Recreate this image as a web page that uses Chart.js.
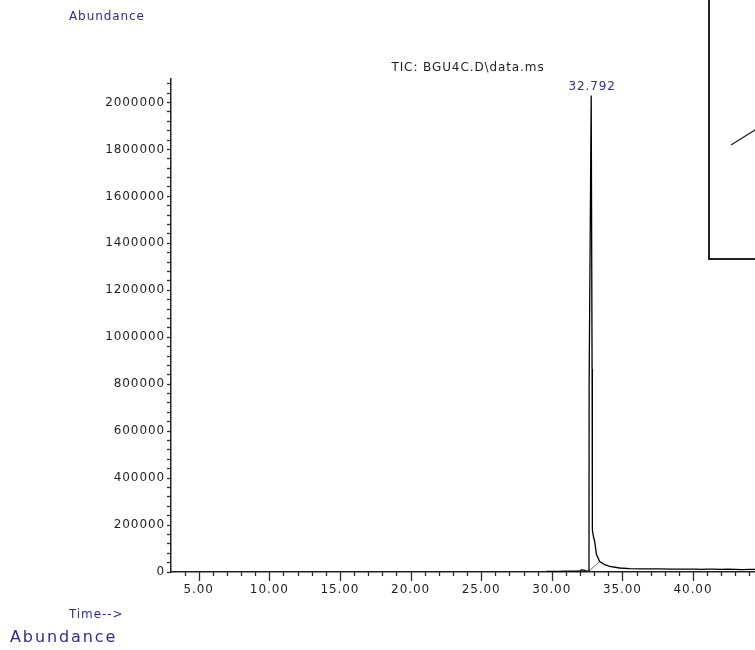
<!DOCTYPE html>
<html>
<head>
<meta charset="utf-8">
<title>TIC: BGU4C.D\data.ms</title>
<script src="https://cdn.jsdelivr.net/npm/chart.js@4/dist/chart.umd.min.js"></script>
<style>
    html, body { margin: 0; padding: 0; background: #fff; overflow: hidden; }
    #tic-chart { display: block; }
</style>
</head>
<body>
<canvas id="tic-chart" width="755" height="650"></canvas>
<script>
// --- Trace data (retention time in min, abundance) ---
const retentionTimes = [
    29.60, 30.00, 30.50, 31.00, 31.50, 32.00, 32.10, 32.30, 32.40, 32.55,
    32.636, 32.645, 32.792, 32.855, 32.875, 32.95, 33.04, 33.16, 33.39, 33.75,
    34.10, 34.81, 35.52, 36.50, 37.50, 38.50, 39.50, 40.20, 40.60, 41.00,
    41.50, 42.00, 42.50, 43.00, 43.50, 44.00, 44.50
];
const abundance = [
    2500, 3000, 3000, 3500, 3500, 4000, 9000, 8000, 4000, 4000,
    6000, 795000, 2030000, 865000, 180000, 150000, 130000, 75000, 45000, 31000,
    24000, 17000, 14000, 13500, 13000, 12500, 12500, 12500, 11000, 12500,
    12000, 11000, 12000, 11500, 10500, 11500, 11500
];

// integration baseline under the main peak
const baselineTimes = [32.57, 33.39];
const baselineValues = [0, 45000];

// --- Axis ticks ---
const timeTicks = [];
for (let t = 4; t <= 44; t++) timeTicks.push(t);
const abundanceTicks = [];
for (let a = 0; a <= 2080000; a += 40000) abundanceTicks.push(a);

const FONT = "'DejaVu Sans', Verdana, sans-serif";
const BLUE = '#2d2d9a';
const INK = '#1f1f1f';

function setSpacing(ctx) {
    ctx.letterSpacing = '0.9px';
}

// Draws the captions, peak label, x tick marks and the inset frame
const decorPlugin = {
    id: 'decor',
    beforeLayout(chart) { setSpacing(chart.ctx); },
    beforeDraw(chart) { setSpacing(chart.ctx); },
    afterDraw(chart) {
        const ctx = chart.ctx;
        const x = chart.scales.x;
        const y = chart.scales.y;
        const area = chart.chartArea;

        ctx.save();

        // minor/major time ticks
        ctx.strokeStyle = '#2a2a2a';
        ctx.lineWidth = 1.3;
        x.ticks.forEach(t => {
            const px = Math.round(x.getPixelForValue(t.value)) + 0.5;
            const len = t.value % 5 === 0 ? 9 : 4;
            ctx.beginPath();
            ctx.moveTo(px, area.bottom);
            ctx.lineTo(px, area.bottom + len);
            ctx.stroke();
        });

        // peak retention time label
        let iMax = 0;
        abundance.forEach((v, i) => { if (v > abundance[iMax]) iMax = i; });
        const peakX = x.getPixelForValue(retentionTimes[iMax]);
        const peakY = y.getPixelForValue(abundance[iMax]);
        ctx.font = '12px ' + FONT;
        ctx.letterSpacing = '0.9px';
        ctx.fillStyle = BLUE;
        ctx.textAlign = 'center';
        ctx.textBaseline = 'middle';
        ctx.fillText(retentionTimes[iMax].toFixed(3), peakX + 1, peakY - 9);

        // title
        ctx.fillStyle = INK;
        ctx.fillText('TIC: BGU4C.D\\data.ms', 468, 68);

        // axis captions
        ctx.fillStyle = BLUE;
        ctx.textAlign = 'left';
        ctx.fillText('Abundance', 69, 17);
        ctx.fillText('Time-->', 69, 615);

        ctx.font = '16px ' + FONT;
        ctx.letterSpacing = '1.9px';
        ctx.fillText('Abundance', 10, 638);

        // inset frame in the upper right
        ctx.strokeStyle = '#222';
        ctx.lineWidth = 2;
        ctx.strokeRect(709, -10, 400, 269);
        ctx.lineWidth = 1.2;
        ctx.beginPath();
        ctx.moveTo(731, 145);
        ctx.lineTo(790, 108);
        ctx.stroke();

        ctx.restore();
    }
};

function initializeChart() {
    const ctx = document.getElementById('tic-chart').getContext('2d');
    return new Chart(ctx, {
        type: 'line',
        data: {
            datasets: [
                {
                    label: 'TIC',
                    data: retentionTimes.map((t, i) => ({ x: t, y: abundance[i] })),
                    borderColor: '#000',
                    borderWidth: 1.3,
                    pointRadius: 0,
                    tension: 0,
                    fill: false
                },
                {
                    label: 'Baseline',
                    data: baselineTimes.map((t, i) => ({ x: t, y: baselineValues[i] })),
                    borderColor: '#b04a4a',
                    borderWidth: 1,
                    pointRadius: 0,
                    fill: false
                }
            ]
        },
        options: {
            responsive: false,
            animation: false,
            layout: { padding: { top: 79, right: 0, bottom: 0, left: 0 } },
            plugins: {
                legend: { display: false },
                tooltip: { enabled: false }
            },
            scales: {
                x: {
                    type: 'linear',
                    min: 3.04,
                    max: 44.39,
                    afterBuildTicks: scale => { scale.ticks = timeTicks.map(v => ({ value: v })); },
                    afterFit: scale => { scale.height = 78; },
                    border: { display: true, color: '#222', width: 1.5 },
                    grid: { display: true, drawOnChartArea: false, tickLength: 9, tickColor: 'transparent' },
                    ticks: {
                        autoSkip: false,
                        maxRotation: 0,
                        padding: 2,
                        color: INK,
                        font: { family: FONT, size: 12 },
                        callback: v => (v % 5 === 0 ? v.toFixed(2) : '')
                    }
                },
                y: {
                    min: 0,
                    max: 2100000,
                    afterBuildTicks: scale => { scale.ticks = abundanceTicks.map(v => ({ value: v })); },
                    afterFit: scale => { scale.width = 171; },
                    border: { display: true, color: '#222', width: 1.5 },
                    grid: { display: true, drawOnChartArea: false, tickLength: 4, tickColor: '#2a2a2a', tickWidth: 1.3 },
                    ticks: {
                        autoSkip: false,
                        padding: 2,
                        color: INK,
                        font: { family: FONT, size: 12 },
                        callback: v => (v % 200000 === 0 ? String(v) : '')
                    }
                }
            }
        },
        plugins: [decorPlugin]
    });
}

initializeChart();
</script>
</body>
</html>
